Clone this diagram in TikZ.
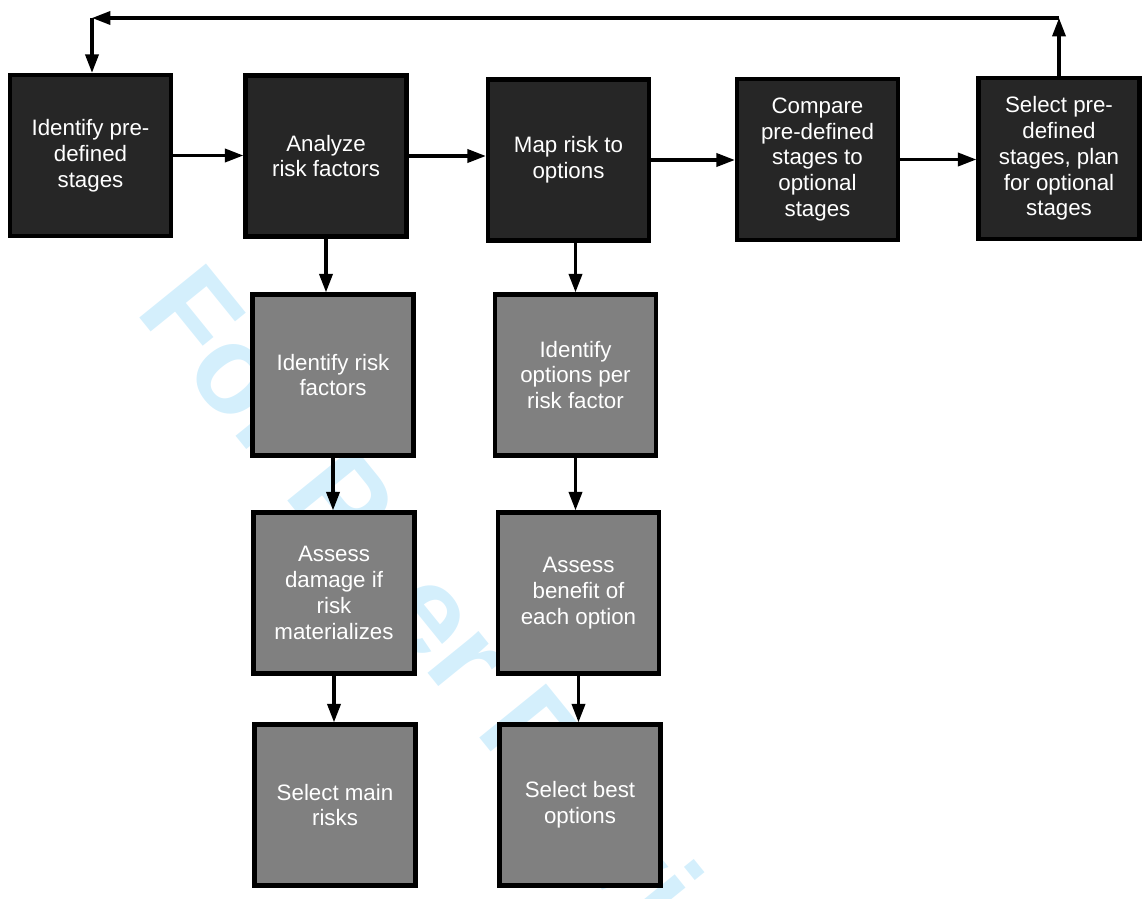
\documentclass[tikz,border=0pt]{standalone}
\usepackage{fontspec}
\setmainfont{Liberation Sans}
\usepackage{tikz}
\usetikzlibrary{arrows.meta}
\definecolor{boxdark}{RGB}{38,38,38}
\definecolor{boxgray}{RGB}{128,128,128}
\definecolor{markcyan}{RGB}{212,239,252}
\tikzset{
  stagebox/.style = {draw=black,line width=2.5pt,text=white,align=center,
                     minimum width=91.6pt,minimum height=91.6pt,inner sep=2pt,
                     font=\fontsize{12.7}{14.7}\selectfont},
  topbox/.style   = {stagebox,fill=boxdark},
  subbox/.style   = {stagebox,fill=boxgray},
  flowarr/.style  = {-{Triangle[length=10.5pt,width=7.5pt]},line width=1.8pt},
  marktext/.style = {markcyan,rotate=-51,anchor=base west,inner sep=0pt,
                     font=\fontsize{71}{71}\selectfont\bfseries}
}

\begin{document}
\begin{tikzpicture}[x=0.02cm,y=-0.02cm]
  \useasboundingbox (0,0) rectangle (1143,899);
  % the review watermark lies under the boxes and is cut at the page edge
  \begin{scope}
    \clip (0,0) rectangle (1143,899);
    \node[marktext] (mark) at (134,311) {For Peer Review};
  \end{scope}

  \node[topbox] (ident)   at (90.5,155.5) {Identify pre-\\defined\\stages};
  \node[topbox] (analyze) at (326,156)    {Analyze\\risk factors};
  \node[topbox] (maprisk) at (568.5,160)  {Map risk to\\options};
  \node[topbox] (compare) at (817.5,159.5) {Compare\\pre-defined\\stages to\\optional\\stages};
  \node[topbox] (select)  at (1059,158.5) {Select pre-\\defined\\stages, plan\\for optional\\stages};

  \node[subbox] (idrisk)   at (333,375)   {Identify risk\\factors};
  \node[subbox] (damage)   at (334,593)   {Assess\\damage if\\risk\\materializes};
  \node[subbox] (mainrisk) at (335,805)   {Select main\\risks};
  \node[subbox] (idopt)    at (575.5,375) {Identify\\options per\\risk factor};
  \node[subbox] (benefit)  at (578.5,593) {Assess\\benefit of\\each option};
  \node[subbox] (bestopt)  at (580,805)   {Select best\\options};

  \draw[flowarr] (ident.east)   -- (ident.east -| analyze.west);
  \draw[flowarr] (analyze.east) -- (analyze.east -| maprisk.west);
  \draw[flowarr] (maprisk.east) -- (maprisk.east -| compare.west);
  \draw[flowarr] (compare.east) -- (compare.east -| select.west);

  \draw[flowarr] (analyze.south) -- (analyze.south |- idrisk.north);
  \draw[flowarr] (idrisk.south)  -- (idrisk.south |- damage.north);
  \draw[flowarr] (damage.south)  -- (damage.south |- mainrisk.north);
  \draw[flowarr] (idopt.north |- maprisk.south) -- (idopt.north);
  \draw[flowarr] (idopt.south)   -- (idopt.south |- benefit.north);
  \draw[flowarr] (benefit.south) -- (benefit.south |- bestopt.north);

  % feedback loop back to the first stage
  \coordinate (loopR) at (select.north |- 0,18);
  \coordinate (loopL) at (92,18);
  \draw[flowarr] (select.north) -- (loopR);
  \draw[flowarr] (loopR) -- (loopL);
  \draw[flowarr] (loopL) -- (loopL |- ident.north);
\end{tikzpicture}
\end{document}
